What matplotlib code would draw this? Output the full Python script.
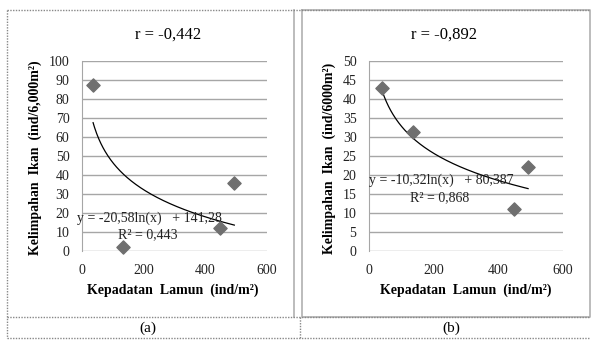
import numpy as np
import matplotlib
matplotlib.use("Agg")
import matplotlib.pyplot as plt
from matplotlib.lines import Line2D

plt.rcParams['font.family'] = ['Liberation Serif', 'DejaVu Serif']

# data
xa = [36, 133, 448, 494]
ya = [87.5, 2, 12, 36]
xb = [40, 136, 448, 492]
yb = [43, 31.3, 11, 22]
coef_a = (-20.58, 141.28)
coef_b = (-10.32, 80.387)
titles = ["r = -0,442", "r = -0,892"]
ylabels = ["Kelimpahan  Ikan  (ind/6,000m\u00b2)", "Kelimpahan  Ikan  (ind/6000m\u00b2)"]
xlabel = "Kepadatan  Lamun  (ind/m\u00b2)"
eqs = ["y = -20,58ln(x)   + 141,28", "y = -10,32ln(x)   + 80,387"]
r2s = ["R\u00b2 = 0,443", "R\u00b2 = 0,868"]
captions = ["(a)", "(b)"]
yticks_a = list(range(0, 101, 10))
yticks_b = list(range(0, 51, 5))
xticks = [0, 200, 400, 600]

W, H = 592, 341
fig = plt.figure(figsize=(W/100, H/100), dpi=100)

def fx(px): return px / W
def fy(py): return 1 - py / H

grid_c = '#a6a6a6'
mark_c = '#6f6f6f'

specs = [
    dict(x=xa, y=ya, coef=coef_a, yt=yticks_a, ax_px=(82, 267), title_x=168, ylab_x=35, xlab_x=173,
         eq_pos=(-0.027, 0.174), r2_pos=(0.354, 0.084), cap_x=148),
    dict(x=xb, y=yb, coef=coef_b, yt=yticks_b, ax_px=(369, 563), title_x=444, ylab_x=329, xlab_x=466,
         eq_pos=(0.0, 0.374), r2_pos=(0.366, 0.279), cap_x=451),
]

for i, s in enumerate(specs):
    x0, x1 = s['ax_px']
    ax = fig.add_axes([fx(x0), fy(251), fx(x1 - x0), (251 - 61) / H])
    ax.set_xlim(0, 600)
    ax.set_ylim(s['yt'][0], s['yt'][-1])
    ax.set_xticks(xticks)
    ax.set_yticks(s['yt'])
    ax.grid(axis='y', color=grid_c, linewidth=1.0)
    ax.set_axisbelow(True)
    for sp in ['top', 'right', 'bottom']:
        ax.spines[sp].set_visible(False)
    ax.spines['left'].set_color(grid_c)
    ax.tick_params(length=0, labelsize=10, colors='#222222')
    ax.tick_params(axis='x', pad=9)
    ax.tick_params(axis='y', pad=9)
    xs = np.linspace(min(s['x']), max(s['x']), 200)
    a, b = s['coef']
    ax.plot(xs, a * np.log(xs) + b, color='black', linewidth=0.9, zorder=3)
    ax.scatter(s['x'], s['y'], marker='D', s=45, color=mark_c, zorder=4, clip_on=False)
    ax.text(*s['eq_pos'], eqs[i], transform=ax.transAxes, fontsize=10, ha='left', va='center', color='#222222')
    ax.text(*s['r2_pos'], r2s[i], transform=ax.transAxes, fontsize=10, ha='center', va='center', color='#222222')
    fig.text(fx(s['title_x']), fy(35), titles[i], fontsize=12, ha='center', va='center')
    fig.text(fx(s['ylab_x']), fy(158), ylabels[i], fontsize=10, fontweight='bold', rotation=90,
             ha='center', va='center')
    fig.text(fx(s['xlab_x']), fy(290), xlabel, fontsize=10, fontweight='bold', ha='center', va='center')
    fig.text(fx(s['cap_x']), fy(328), captions[i], fontsize=11, ha='center', va='center')

def fline(xs, ys, **kw):
    fig.add_artist(Line2D([fx(v) for v in xs], [fy(v) for v in ys], transform=fig.transFigure, **kw))

# chart frames
fline([294, 294], [10, 317], color='#b0b0b0', linewidth=1.2)
fline([302, 302, 590, 590, 302], [10, 317, 317, 10, 10], color='#b0b0b0', linewidth=1.2)
# table dotted borders
dot = dict(color='#888888', linewidth=1.0, linestyle=(0, (1, 1)))
fline([7, 590], [10, 10], **dot)
fline([7, 590], [317, 317], **dot)
fline([7, 590], [338, 338], **dot)
fline([7, 7], [10, 338], **dot)
fline([300, 300], [317, 338], **dot)

fig.savefig("out.png", dpi=100, facecolor='white')
